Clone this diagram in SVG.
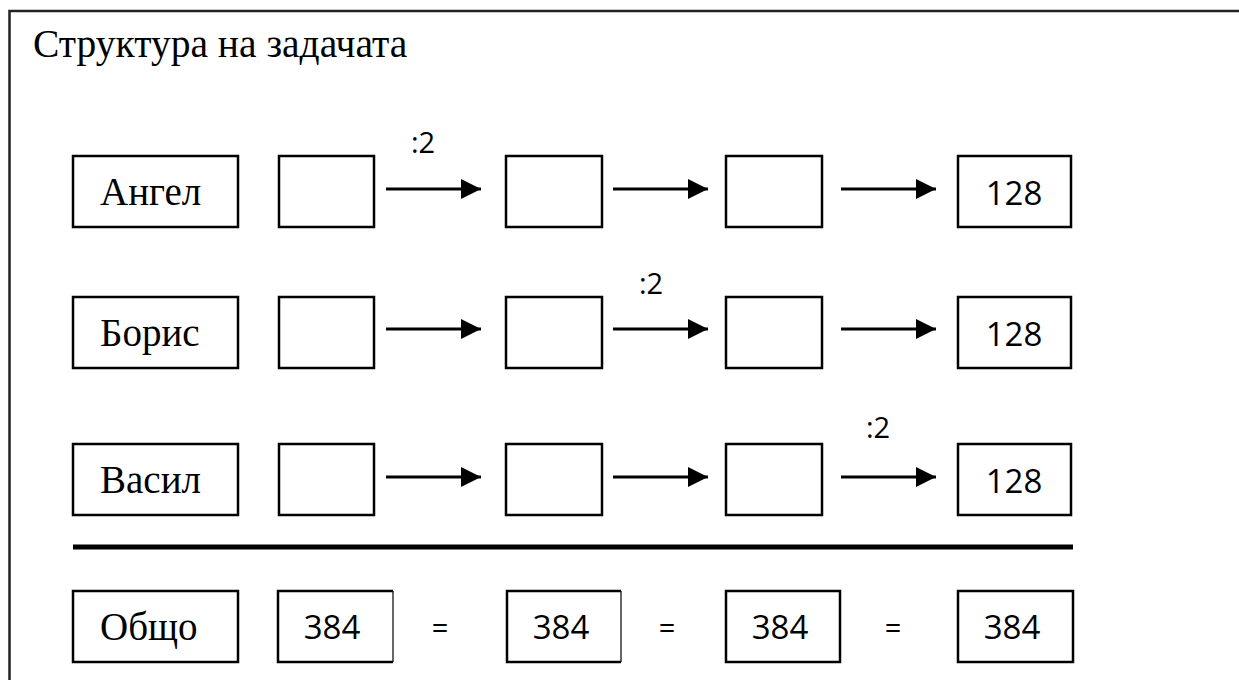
<svg xmlns="http://www.w3.org/2000/svg" width="1239" height="680" viewBox="0 0 1239 680">
<defs>
<style>
.box{fill:#fff;stroke:#000;stroke-width:2.5}
.serif{font-family:"Liberation Serif","Times New Roman",serif;font-size:39px;fill:#000}
.num{font-family:"Open Sans","Noto Sans",sans-serif;font-size:33px;fill:#000;text-anchor:middle}
.lbl{font-family:"Open Sans","Noto Sans",sans-serif;font-size:29px;fill:#000}
.arr{stroke:#000;stroke-width:3;fill:none;marker-end:url(#ah)}
</style>
<marker id="ah" viewBox="0 0 10 10" refX="10" refY="5" markerUnits="userSpaceOnUse" markerWidth="20" markerHeight="20" orient="auto">
<path d="M0,0 L10,5 L0,10 Z" fill="#000"/>
</marker>
</defs>
<rect width="1239" height="680" fill="#fff"/>
<g id="frame">
<path d="M9.5,690 V11 H1250" fill="none" stroke="#222" stroke-width="2.5"/>
</g>
<g id="title"><text x="33" y="57" font-family="Liberation Serif, Times New Roman, serif" font-size="39.5">Структура на задачата</text></g>

<g id="row1">
<g id="angel"><rect class="box" x="73" y="156" width="165" height="71"/><text class="serif" x="100" y="205">Ангел</text></g>
<g id="a1"><rect class="box" x="279" y="156" width="95" height="71"/></g>
<g id="a2"><rect class="box" x="506" y="156" width="96" height="71"/></g>
<g id="a3"><rect class="box" x="726" y="156" width="96" height="71"/></g>
<g id="a4"><rect class="box" x="958" y="156" width="113" height="71"/><text class="num" x="1014" y="205">128</text></g>
</g>

<g id="row2">
<g id="boris"><rect class="box" x="73" y="297" width="165" height="71"/><text class="serif" x="100" y="346">Борис</text></g>
<g id="b1"><rect class="box" x="279" y="297" width="95" height="71"/></g>
<g id="b2"><rect class="box" x="506" y="297" width="96" height="71"/></g>
<g id="b3"><rect class="box" x="726" y="297" width="96" height="71"/></g>
<g id="b4"><rect class="box" x="958" y="297" width="113" height="71"/><text class="num" x="1014" y="346">128</text></g>
</g>

<g id="row3">
<g id="vasil"><rect class="box" x="73" y="444" width="165" height="71"/><text class="serif" x="100" y="493">Васил</text></g>
<g id="v1"><rect class="box" x="279" y="444" width="95" height="71"/></g>
<g id="v2"><rect class="box" x="506" y="444" width="96" height="71"/></g>
<g id="v3"><rect class="box" x="726" y="444" width="96" height="71"/></g>
<g id="v4"><rect class="box" x="958" y="444" width="113" height="71"/><text class="num" x="1014" y="493">128</text></g>
</g>

<g id="divider"><line x1="73" y1="547" x2="1073" y2="547" stroke="#000" stroke-width="5"/></g>

<g id="row4">
<g id="total"><rect class="box" x="73" y="591" width="165" height="71"/><text class="serif" x="100" y="640">Общо</text></g>
<g id="t1"><path d="M393,591 H278 V662 H393" class="box" fill="none"/><line x1="393" y1="591" x2="393" y2="662" stroke="#000" stroke-width="1.2"/><text class="num" x="332" y="639">384</text></g>
<g id="t2"><path d="M621,591 H507 V662 H621" class="box" fill="none"/><line x1="621" y1="591" x2="621" y2="662" stroke="#000" stroke-width="1.2"/><text class="num" x="561" y="639">384</text></g>
<g id="t3"><rect class="box" x="726" y="591" width="114" height="71"/><text class="num" x="780" y="639">384</text></g>
<g id="t4"><rect class="box" x="958" y="591" width="115" height="71"/><text class="num" x="1012" y="639">384</text></g>
<text class="lbl" x="440" y="638" text-anchor="middle">=</text>
<text class="lbl" x="667" y="638" text-anchor="middle">=</text>
<text class="lbl" x="893" y="638" text-anchor="middle">=</text>
</g>

<g id="connectors">
<line class="arr" x1="386" y1="189" x2="481" y2="189"/>
<line class="arr" x1="613" y1="189" x2="708" y2="189"/>
<line class="arr" x1="841" y1="189" x2="936" y2="189"/>
<line class="arr" x1="386" y1="329" x2="481" y2="329"/>
<line class="arr" x1="613" y1="329" x2="708" y2="329"/>
<line class="arr" x1="841" y1="329" x2="936" y2="329"/>
<line class="arr" x1="386" y1="477" x2="481" y2="477"/>
<line class="arr" x1="613" y1="477" x2="708" y2="477"/>
<line class="arr" x1="841" y1="477" x2="936" y2="477"/>
<text class="lbl" x="411" y="153">:2</text>
<text class="lbl" x="639" y="294">:2</text>
<text class="lbl" x="866" y="438">:2</text>
</g>
</svg>
